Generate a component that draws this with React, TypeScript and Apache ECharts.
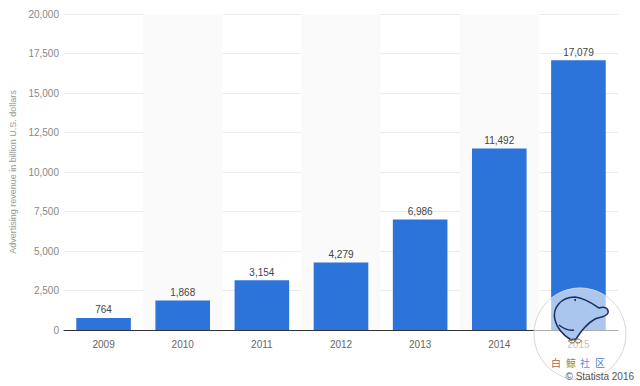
import React, { useEffect, useRef } from "react";
import * as echarts from "echarts";

const years = ["2009", "2010", "2011", "2012", "2013", "2014", "2015"];
const revenue = [764, 1868, 3154, 4279, 6986, 11492, 17079];
const yTicks = { min: 0, max: 20000, interval: 2500 };
const axisName = "Advertising revenue in billion U.S. dollars";
const credit = "© Statista 2016";
const logoChars = ["白", "鲸", "社", "区"];

const FONT = "'Liberation Sans', Arial, sans-serif";

const whaleD =
  "M20 45 C12 40 6 33 4 25 C1 13 10 2 24 2 C34 3 42 9 48 13 C53 11 58 13 57 18 C55 22 49 22 44 24 C37 28 30 36 25 44 Z M8 30 C13 34 18 36 23 35";

let registered = false;
function registerWhale() {
  if (registered) return;
  echarts.graphic.registerShape("whale", echarts.graphic.extendPath(whaleD, {}) as any);
  registered = true;
}

export default function App() {
  const ref = useRef<HTMLDivElement>(null);
  useEffect(() => {
    if (!ref.current) return;
    registerWhale();
    const chart = echarts.init(ref.current, null, { renderer: "svg" });
    chart.setOption({
      animation: false,
      backgroundColor: "#ffffff",
      textStyle: { fontFamily: FONT },
      grid: { left: 64, right: 22, top: 14, bottom: 56 },
      xAxis: {
        type: "category",
        data: years,
        axisLine: { show: true, lineStyle: { color: "#333", width: 1 } },
        axisTick: { show: false },
        axisLabel: { color: "#666", fontSize: 10, margin: 9, fontFamily: FONT },
        splitArea: { show: true, areaStyle: { color: ["rgba(255,255,255,0)", "#fafafa"] } },
      },
      yAxis: {
        type: "value",
        min: yTicks.min,
        max: yTicks.max,
        interval: yTicks.interval,
        name: axisName,
        nameLocation: "middle",
        nameGap: 47,
        nameTextStyle: { color: "#999", fontSize: 9, fontFamily: FONT },
        axisLine: { show: false },
        axisTick: { show: false },
        axisLabel: {
          color: "#888",
          fontSize: 10,
          margin: 5,
          fontFamily: FONT,
          formatter: (v: number) => v.toLocaleString("en-US"),
        },
        splitLine: { lineStyle: { color: "#ececec", width: 1 } },
      },
      series: [
        {
          type: "bar",
          data: revenue,
          barCategoryGap: "31%",
          itemStyle: { color: "#2d74da" },
          label: {
            show: true,
            position: "top",
            distance: 3,
            color: "#444",
            fontSize: 10,
            fontFamily: FONT,
            formatter: (p: any) => Number(p.value).toLocaleString("en-US"),
          },
        },
      ],
      graphic: [
        {
          type: "circle",
          z: 100,
          shape: { cx: 580, cy: 334, r: 46 },
          style: { fill: "rgba(255,255,255,0.6)", stroke: "#d8d8d8", lineWidth: 1 },
        },
        {
          type: "whale",
          z: 101,
          x: 551,
          y: 295,
          style: { fill: "#a9c6ee", stroke: "#1f2d5a", lineWidth: 1.5 },
        },
        {
          type: "circle",
          z: 102,
          shape: { cx: 575, cy: 300, r: 1 },
          style: { fill: "#1f2d5a" },
        },
        {
          type: "ellipse",
          z: 102,
          shape: { cx: 572, cy: 341, rx: 3, ry: 2 },
          style: { fill: "none", stroke: "#8a6a40", lineWidth: 1 },
        },
        {
          type: "ellipse",
          z: 102,
          shape: { cx: 578, cy: 341, rx: 3, ry: 2 },
          style: { fill: "none", stroke: "#8a6a40", lineWidth: 1 },
        },
        ...logoChars.map((c, i) => ({
          type: "text",
          z: 102,
          x: [556, 571, 585, 600][i],
          y: 362,
          style: {
            text: c,
            fill: ["#b0604a", "#7a8f4a", "#6f8fcc", "#4f7cc8"][i],
            fontSize: 10,
            fontFamily: "'Noto Sans CJK SC', sans-serif",
            align: "center",
            verticalAlign: "middle",
          },
        })),
        {
          type: "text",
          z: 103,
          right: 6,
          top: 371,
          style: { text: credit, fill: "#555", fontSize: 10, fontFamily: FONT },
        },
      ],
    });
    return () => chart.dispose();
  }, []);
  return (
    <div
      ref={ref}
      style={{ position: "absolute", left: 0, top: 0, width: 640, height: 386 }}
    />
  );
}
